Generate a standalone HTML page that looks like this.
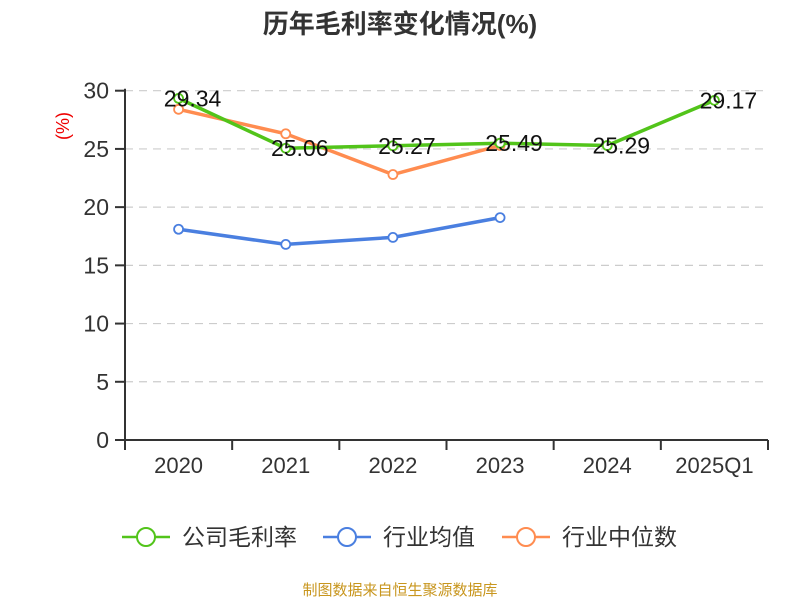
<!DOCTYPE html>
<html><head><meta charset="utf-8"><style>
body{margin:0;background:#fff;font-family:"Liberation Sans","Noto Sans CJK SC",sans-serif;}
</style></head><body>
<svg width="800" height="600" xmlns="http://www.w3.org/2000/svg" font-family="Liberation Sans, Noto Sans CJK SC, sans-serif">
<text x="400" y="33" text-anchor="middle" font-size="26" font-weight="bold" fill="#333">历年毛利率变化情况(%)</text>
<text transform="translate(69,126) rotate(-90)" text-anchor="middle" font-size="18" fill="#e00">(%)</text>
<g id="grid"></g><g id="axes"></g><g id="series"></g>
<g>
<g><line x1="122" y1="537" x2="170" y2="537" stroke="#52c41a" stroke-width="2.5"/><circle cx="146" cy="537" r="9" fill="#fff" stroke="#52c41a" stroke-width="2"/><text x="182" y="545" font-size="23" fill="#333">公司毛利率</text></g>
<g><line x1="323" y1="537" x2="371" y2="537" stroke="#4a7fe0" stroke-width="2.5"/><circle cx="347" cy="537" r="9" fill="#fff" stroke="#4a7fe0" stroke-width="2"/><text x="383" y="545" font-size="23" fill="#333">行业均值</text></g>
<g><line x1="502" y1="537" x2="550" y2="537" stroke="#ff8c50" stroke-width="2.5"/><circle cx="526" cy="537" r="9" fill="#fff" stroke="#ff8c50" stroke-width="2"/><text x="562" y="545" font-size="23" fill="#333">行业中位数</text></g>
</g>
<text x="400" y="595" text-anchor="middle" font-size="15" fill="#c8961e">制图数据来自恒生聚源数据库</text>
</svg>
<script>
const categories=["2020","2021","2022","2023","2024","2025Q1"];
const company=[29.34,25.06,25.27,25.49,25.29,29.17];
const industryAvg=[18.1,16.8,17.4,19.1,null,null];
const industryMedian=[28.4,26.3,22.8,25.3,null,null];
const yTicks=[0,5,10,15,20,25,30];
const NS="http://www.w3.org/2000/svg";
const x0=125,x1=768,yb=440,yt=90.7,ymax=30;
const bw=(x1-x0)/categories.length;
const X=i=>x0+bw*(i+0.5);
const Y=v=>yb-(v/ymax)*(yb-yt);
function mk(t,a,p){const e=document.createElementNS(NS,t);for(const k in a)e.setAttribute(k,a[k]);p.appendChild(e);return e;}
const grid=document.getElementById('grid'),axes=document.getElementById('axes'),ser=document.getElementById('series');
yTicks.forEach(v=>{
 if(v>0){const g=mk('line',{x1:x0,x2:x1,y1:Y(v),y2:Y(v),stroke:'#ccc','stroke-dasharray':'8,6','stroke-width':1.2},grid);
 
 }
 const tk=mk('line',{x1:x0-10,x2:x0,y1:Y(v),y2:Y(v),stroke:'#333','stroke-width':2},axes);
 
 
 const t=mk('text',{x:x0-16,y:Y(v)+8,'text-anchor':'end','font-size':23,fill:'#333'},axes);t.textContent=v;
 
 
});
const ya=mk('line',{x1:x0,x2:x0,y1:yt-2,y2:yb,stroke:'#333','stroke-width':2},axes);


const xa=mk('line',{x1:x0,x2:x1,y1:yb,y2:yb,stroke:'#333','stroke-width':2},axes);


for(let i=0;i<=categories.length;i++){const tk=mk('line',{x1:x0+bw*i,x2:x0+bw*i,y1:yb,y2:yb+10,stroke:'#333','stroke-width':2},axes);
 
 }
categories.forEach((c,i)=>{const t=mk('text',{x:X(i),y:yb+33,'text-anchor':'middle','font-size':22,fill:'#333'},axes);t.textContent=c;
 
 });
function draw(data,color,name,labels){
 const g=mk('g',{},ser);
 
 
 const pts=[];data.forEach((v,i)=>{if(v!=null)pts.push([X(i),Y(v),v]);});
 const pl=mk('polyline',{points:pts.map(p=>p[0]+','+p[1]).join(' '),fill:'none',stroke:color,'stroke-width':3.5},g);
 
 
 pts.forEach(p=>{const c=mk('circle',{cx:p[0],cy:p[1],r:4.5,fill:'#fff',stroke:color,'stroke-width':1.8},g);
  
  
  if(labels){const t=mk('text',{x:p[0]+14,y:p[1]+8,'text-anchor':'middle','font-size':23,fill:'#111'},ser);t.textContent=p[2].toFixed(2);
   
   }
 });
}
draw(industryAvg,'#4a7fe0','industry-avg-series',false);
draw(industryMedian,'#ff8c50','industry-median-series',false);
draw(company,'#52c41a','company-series',true);
</script>
</body></html>
